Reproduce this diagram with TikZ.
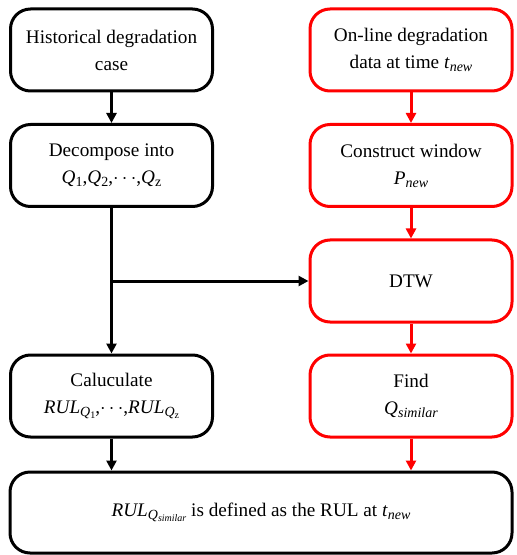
\documentclass[tikz,border=0pt]{standalone}
\usepackage{fontspec}
\setmainfont{Liberation Serif}
\usetikzlibrary{arrows.meta}
\newcommand\sbs[1]{\raisebox{-0.35ex}{\fontsize{7}{8}\selectfont #1}}
\newcommand\ssbs[1]{\raisebox{-0.3ex}{\fontsize{5}{6}\selectfont #1}}
\begin{document}
\begin{tikzpicture}[x=0.5pt,y=-0.5pt,
 box/.style={draw, line width=1.5pt, rounded corners=10pt, minimum width=101pt, minimum height=41pt, align=center, font=\fontsize{9.6}{13.5}\selectfont, inner sep=0pt},
 rbox/.style={box, draw=red},
 arr/.style={line width=1.5pt, -{Triangle[length=5pt,width=5pt]}},
 rarr/.style={arr, red}]
\useasboundingbox (0,0) rectangle (516,555);
\node[box] (b1) at (111.5,50) {Historical degradation\\case};
\node[box] (b2) at (111.5,165.5) {Decompose into\\\textit{Q}\sbs{1},\textit{Q}\sbs{2},$\cdots$,\textit{Q}\sbs{z}};
\node[box] (b4) at (111.5,396) {Caluculate\\\textit{RUL}\sbs{\textit{Q}\ssbs{1}},$\cdots$,\textit{RUL}\sbs{\textit{Q}\ssbs{z}}};
\node[rbox] (r1) at (411,50) {On-line degradation\\data at time \textit{t}\sbs{\textit{new}}};
\node[rbox] (r2) at (411,165.5) {Construct window\\\textit{P}\sbs{\textit{new}}};
\node[rbox] (dtw) at (411,281) {DTW};
\node[rbox] (r4) at (411,396) {Find\\\textit{Q}\sbs{\textit{similar}}};
\node[box, minimum width=251pt, minimum height=40.5pt] (bot) at (261,512.5) {\textit{RUL}\sbs{\textit{Q}\ssbs{\textit{similar}}} is defined as the RUL at \textit{t}\sbs{\textit{new}}};
\coordinate (j) at (b2.south |- dtw.west);
\draw[arr] (b1) -- (b2);
\draw[arr] (b2) -- (b4);
\draw[arr] (j) -- (dtw.west);
\draw[arr] (b4) -- (b4.south |- bot.north);
\draw[rarr] (r1) -- (r2);
\draw[rarr] (r2) -- (dtw);
\draw[rarr] (dtw) -- (r4);
\draw[rarr] (r4) -- (r4.south |- bot.north);
\end{tikzpicture}
\end{document}
